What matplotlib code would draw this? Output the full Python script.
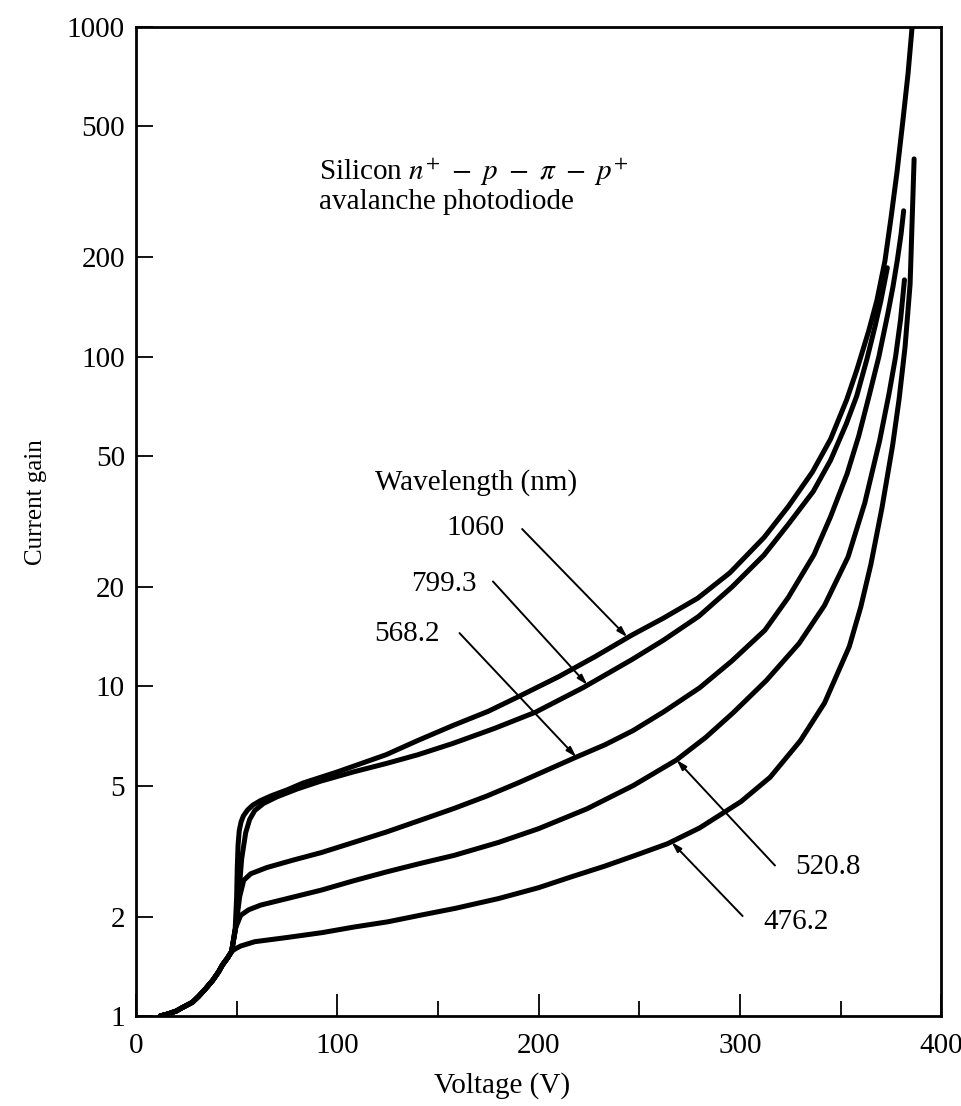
import matplotlib
matplotlib.use("Agg")
from matplotlib import pyplot as plt
from matplotlib.ticker import FixedLocator, NullFormatter

# shared low-voltage part (all wavelengths coincide)
stem_voltage = [12, 16, 20, 23, 28, 31, 34.6, 38, 41, 43, 45.5, 47.5]
stem_gain = [1.0, 1.015, 1.035, 1.06, 1.10, 1.145, 1.21, 1.28, 1.36, 1.43, 1.5, 1.57]

wavelengths = ["1060", "799.3", "568.2", "520.8", "476.2"]

voltage_1060 = [49.3, 50.0, 50.3, 50.7, 51.3, 52.2, 53.4, 55.5, 58, 61.8, 67, 75, 83,
                100, 124.2, 140, 157.3, 175, 190.4, 210, 228, 246.3, 262, 279, 295,
                312, 324, 336, 345, 353, 358, 364, 368, 372, 375, 378, 381, 383.5, 385.5]
gain_1060 = [1.85, 2.3, 2.8, 3.3, 3.65, 3.88, 4.05, 4.22, 4.36, 4.5, 4.65, 4.85, 5.09,
             5.5, 6.2, 6.85, 7.6, 8.4, 9.33, 10.7, 12.3, 14.3, 16.1, 18.5, 22.1,
             28.3, 35.1, 44.7, 56.2, 74, 91, 120, 148, 195, 263, 363, 525, 724, 1000]

voltage_799 = [49.5, 51.0, 52.5, 54.5, 56.5, 59, 63.3, 70, 80, 91.5, 108, 124.2, 140,
               157.4, 178, 198.5, 222, 246.4, 262, 279.5, 296, 311.9, 324, 336.4, 345,
               352.8, 358, 363, 367.1, 370, 373.2]
gain_799 = [1.85, 2.3, 3.0, 3.6, 3.95, 4.2, 4.41, 4.62, 4.88, 5.15, 5.5, 5.83, 6.2,
            6.71, 7.45, 8.35, 9.9, 12.06, 13.8, 16.3, 20.0, 25, 31, 39, 48.5,
            62.5, 76, 98, 123.7, 148, 186]

voltage_568 = [49.5, 51.5, 53.5, 57, 65, 78, 92, 108, 124.7, 141, 157.9, 174, 190, 205,
               218.7, 233, 246.9, 262, 280, 296, 312.4, 324, 336.8, 345, 353.2, 359,
               364.1, 369, 373.5, 376, 378.2, 380, 381.3]
gain_568 = [1.85, 2.3, 2.58, 2.7, 2.82, 2.97, 3.13, 3.36, 3.62, 3.92, 4.26, 4.64, 5.1, 5.6,
            6.1, 6.65, 7.34, 8.36, 9.9, 11.94, 14.8, 18.6, 25.1, 32.7, 44.1, 57.5,
            75.9, 100, 135.6, 163, 197, 235, 277]

voltage_520 = [49.5, 52, 56, 62, 75, 92.2, 108, 124.9, 141, 158, 180, 200, 224, 247,
               268.5, 283, 296.5, 313, 329.4, 342, 353.7, 362, 369.4, 374, 377.3,
               379.8, 381.7]
gain_520 = [1.85, 2.02, 2.1, 2.17, 2.27, 2.41, 2.57, 2.74, 2.9, 3.07, 3.36, 3.7, 4.25, 5.0,
            5.98, 7.0, 8.3, 10.4, 13.5, 17.6, 24.7, 36, 55.7, 77, 100,
            130, 171]

voltage_476 = [49.5, 52, 59, 75, 92.5, 108, 125, 141, 158.5, 180, 200, 216, 233, 248,
               264, 280, 300.5, 315, 330, 342, 354.3, 360, 365, 370.5, 375.8, 379,
               382, 384.5, 386.5]
gain_476 = [1.6, 1.63, 1.68, 1.73, 1.79, 1.86, 1.93, 2.02, 2.12, 2.27, 2.45, 2.64, 2.85,
            3.07, 3.33, 3.72, 4.47, 5.3, 6.84, 8.9, 13.2, 17.4, 23.4, 34.7, 53.7, 74,
            107, 166, 398]

x_ticks = [0, 100, 200, 300, 400]
x_minor = [50, 150, 250, 350]
y_ticks = [1, 2, 5, 10, 20, 50, 100, 200, 500, 1000]

plt.rcParams["font.family"] = ["Liberation Serif", "DejaVu Serif"]
plt.rcParams["mathtext.fontset"] = "stix"

fig = plt.figure(figsize=(9.61, 11.06), dpi=100)
ax = fig.add_axes([0.1415, 0.0814, 0.838, 0.8942])

series = [
    (voltage_1060, gain_1060),
    (voltage_799, gain_799),
    (voltage_568, gain_568),
    (voltage_520, gain_520),
    (voltage_476, gain_476),
]
for volts, gains in series:
    ax.plot(stem_voltage + volts, stem_gain + gains, color="black", lw=3.6,
            solid_capstyle="round", solid_joinstyle="round")

ax.set_yscale("log")
ax.set_xlim(0, 400)
ax.set_ylim(1, 1000)

ax.xaxis.set_major_locator(FixedLocator(x_ticks))
ax.xaxis.set_minor_locator(FixedLocator(x_minor))
ax.set_xticklabels([str(t) for t in x_ticks])
ax.yaxis.set_major_locator(FixedLocator(y_ticks))
ax.yaxis.set_minor_locator(FixedLocator([]))
ax.yaxis.set_minor_formatter(NullFormatter())
ax.set_yticklabels([str(t) for t in y_ticks])

ax.tick_params(axis="x", which="major", direction="in", length=16, width=1.3,
               labelsize=21, pad=12, top=False)
ax.tick_params(axis="x", which="minor", direction="in", length=11, width=1.3, top=False)
ax.tick_params(axis="y", which="major", direction="in", length=12, width=1.3,
               labelsize=21, pad=8, right=False)
for spine in ax.spines.values():
    spine.set_linewidth(2.0)

ax.set_xlabel("Voltage (V)", fontsize=21, labelpad=10)
ax.xaxis.label.set_x(0.455)
ax.set_ylabel("Current gain", fontsize=18, labelpad=14)
ax.yaxis.label.set_y(0.52)

ax.text(91, 330, "Silicon $n^{+}\\ -\\ p\\ -\\ \\pi\\ -\\ p^{+}$\navalanche photodiode",
        fontsize=21, ha="left", va="center", linespacing=1.0)
ax.text(168.7, 41.4, "Wavelength (nm)", fontsize=21, ha="center", va="center")

# label text position, arrow tail, arrow tip (on the curve)
labels = [
    ((168.5, 30.2), (191.8, 30.0), (244.0, 14.1)),
    ((152.9, 20.5), (177.3, 20.8), (224.2, 10.1)),
    ((134.8, 14.4), (160.7, 14.5), (218.7, 6.1)),
    ((343.8, 2.84), (317.4, 2.86), (268.5, 5.98)),
    ((327.8, 1.93), (301.3, 2.01), (266.0, 3.37)),
]
for name, (text_pos, tail, tip) in zip(wavelengths, labels):
    ax.text(*text_pos, name, fontsize=21, ha="center", va="center")
    ax.annotate("", xy=tip, xytext=tail,
                arrowprops=dict(arrowstyle="-|>,head_length=0.6,head_width=0.18",
                                color="black", lw=1.4, shrinkA=0, shrinkB=0))

fig.savefig("out.png", dpi=100)
